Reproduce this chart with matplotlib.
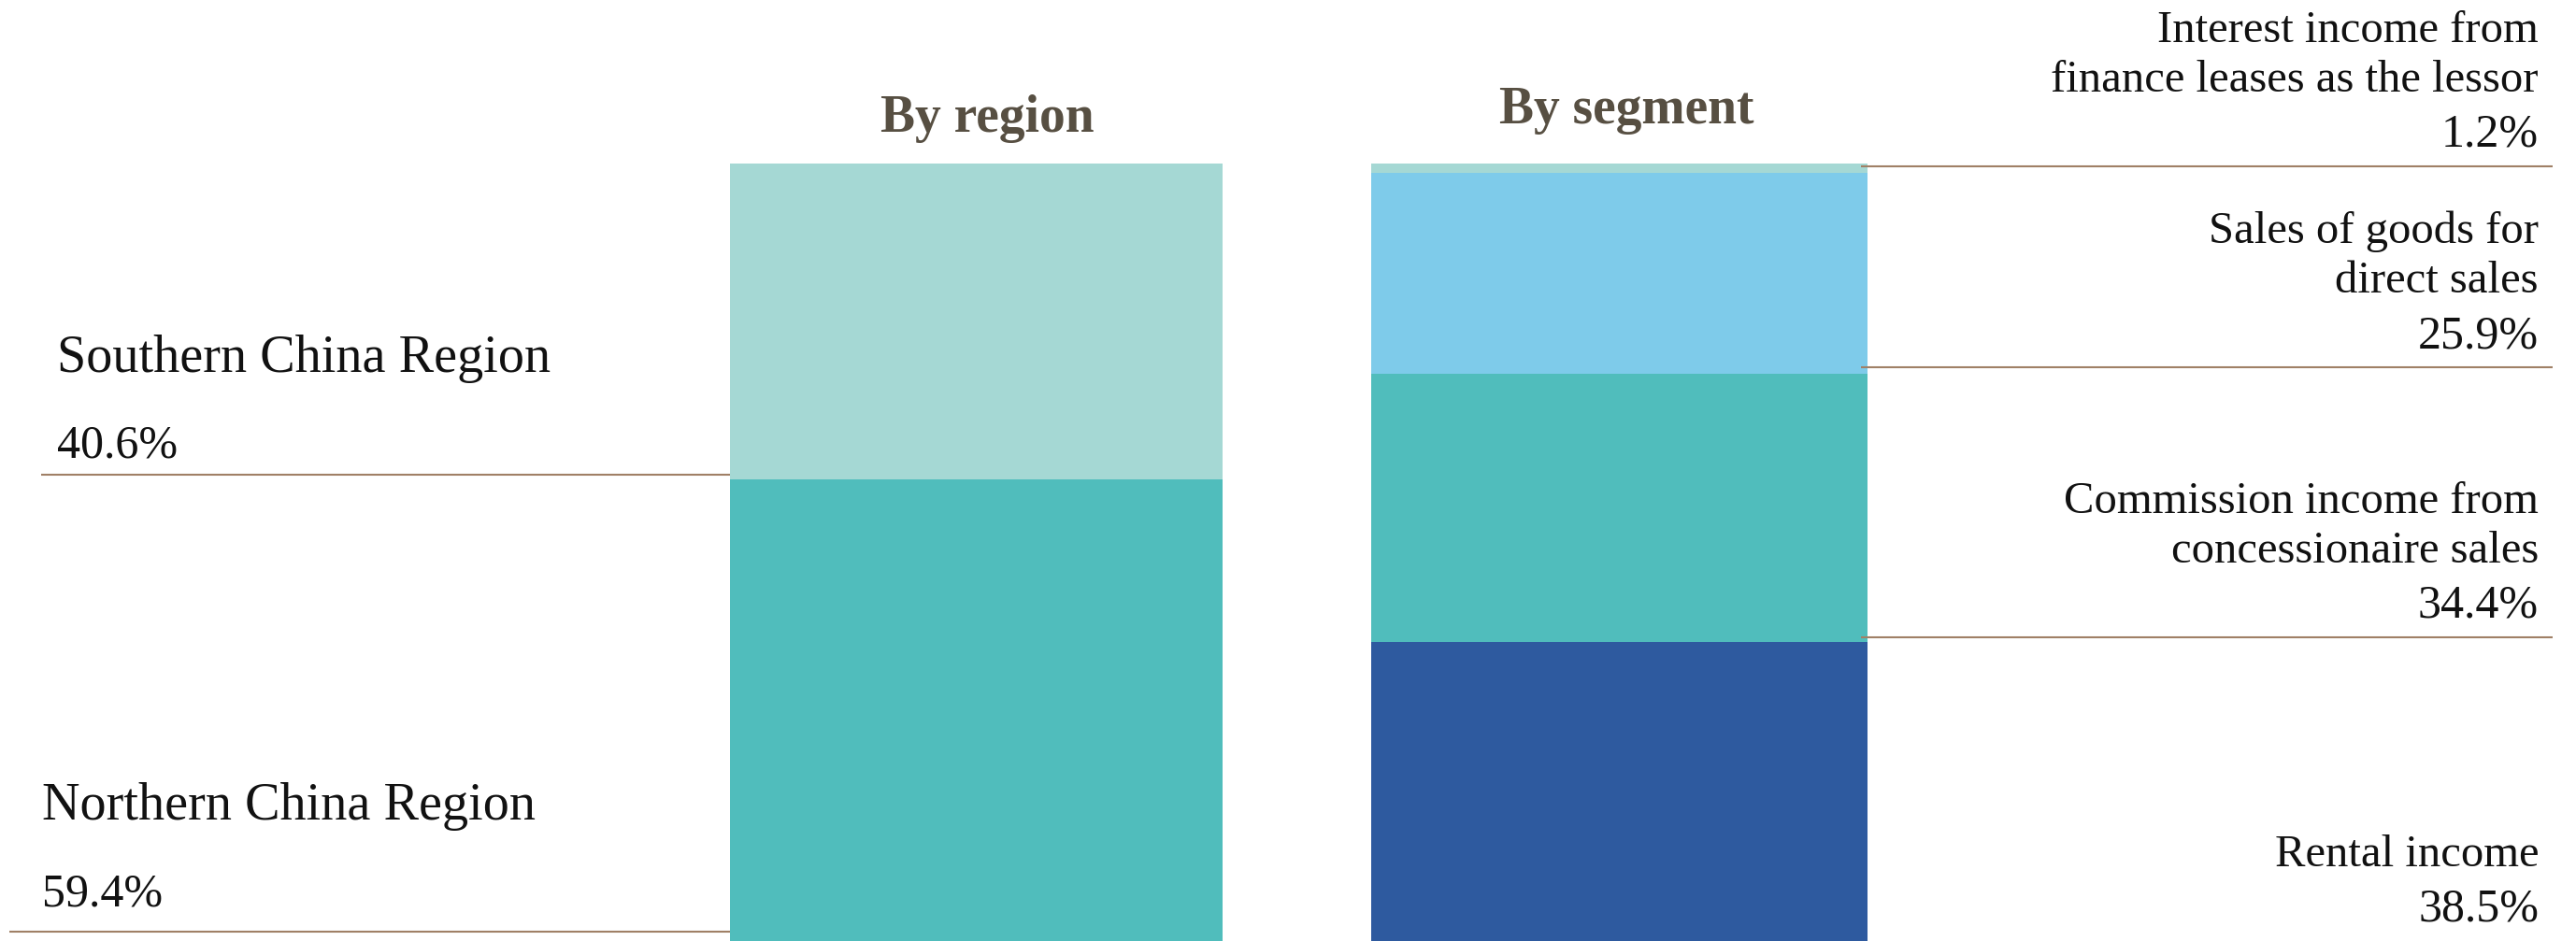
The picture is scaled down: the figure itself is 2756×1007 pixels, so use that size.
import matplotlib
matplotlib.use("Agg")
import matplotlib.pyplot as plt
from matplotlib.transforms import offset_copy

plt.rcParams['font.family'] = ['Liberation Serif', 'DejaVu Serif']

# ---------------- data ----------------
titles = ["By region", "By segment"]

region_names = ["Northern China Region", "Southern China Region"]
region_values = [59.4, 40.6]

segment_names = ["Rental income",
                 "Commission income from\nconcessionaire sales",
                 "Sales of goods for\ndirect sales",
                 "Interest income from\nfinance leases as the lessor"]
segment_values = [38.5, 34.4, 25.9, 1.2]

# ---------------- style ----------------
W, H = 2756, 1007
DPI = 100
region_colors = ["#50BDBC", "#A5D8D4"]
segment_colors = ["#2E5A9F", "#50BDBC", "#7ECBEA", "#A5D8D4"]
line_color = "#A08066"
title_color = "#574F42"
text_color = "#111111"

fig = plt.figure(figsize=(W / DPI, H / DPI), dpi=DPI)
bar_top_px = 175
ax = fig.add_axes([0, 0, 1, (H - bar_top_px) / H])
ax.set_xlim(0, W)
ax.set_ylim(0, 100)
ax.axis('off')


def shifted(dy):
    # dy in pixels, positive = upwards
    return offset_copy(ax.transData, fig=fig, x=0, y=dy, units='dots')


# region bar
region_x, region_w = 1044.5, 527
bottom = 0
region_bottoms = []
for v, c in zip(region_values, region_colors):
    ax.bar(region_x, v, bottom=bottom, width=region_w, color=c, linewidth=0)
    region_bottoms.append(bottom)
    bottom += v

# segment bar
seg_x, seg_w = 1732.5, 531
bottom = 0
seg_bottoms = []
for v, c in zip(segment_values, segment_colors):
    ax.bar(seg_x, v, bottom=bottom, width=seg_w, color=c, linewidth=0)
    seg_bottoms.append(bottom)
    bottom += v

# region labels (left side)
reg_line_off = [10, 5]
reg_line_x0 = [10, 44]
reg_text_x = [45, 61]
reg_pct_gap = [28, 18]
reg_line_x1 = region_x - region_w / 2
for name, v, b, lo, lx0, tx, pg in zip(region_names, region_values, region_bottoms,
                                       reg_line_off, reg_line_x0, reg_text_x, reg_pct_gap):
    ax.plot([lx0, reg_line_x1], [b, b], color=line_color, lw=1.5,
            transform=shifted(lo), clip_on=False, solid_capstyle='butt')
    ax.text(tx, b, f"{v:.1f}%", transform=shifted(lo + pg), ha='left',
            va='baseline', fontsize=36, color=text_color)
    ax.text(tx, b, name, transform=shifted(lo + pg + 92), ha='left',
            va='baseline', fontsize=40.5, color=text_color)

# segment labels (right side)
seg_line_off = [0, 5, 7, 7]
seg_show_line = [False, True, True, True]
seg_line_x0 = seg_x + seg_w / 2 - 7
seg_line_x1 = 2731
seg_text_x = 2716
pct_gap = 21
name_gap = 80
row_gap = 53
for name, v, b, lo, show in zip(segment_names, segment_values, seg_bottoms,
                                seg_line_off, seg_show_line):
    if show:
        ax.plot([seg_line_x0, seg_line_x1], [b, b], color=line_color, lw=1.5,
                transform=shifted(lo), clip_on=False, solid_capstyle='butt')
    ax.text(seg_text_x, b, f"{v:.1f}%", transform=shifted(lo + pct_gap), ha='right',
            va='baseline', fontsize=36, color=text_color)
    lines = name.split("\n")
    for i, ln in enumerate(reversed(lines)):
        ax.text(seg_text_x, b, ln, transform=shifted(lo + name_gap + i * row_gap),
                ha='right', va='baseline', fontsize=35, color=text_color)

# titles
title_pos = [(1056, 141), (1740, 132)]
for t, (tx, ty) in zip(titles, title_pos):
    fig.text(tx / W, 1 - ty / H, t, ha='center', va='baseline', fontsize=40,
             fontweight='bold', color=title_color)

fig.savefig("out.png", dpi=DPI, facecolor="white")
